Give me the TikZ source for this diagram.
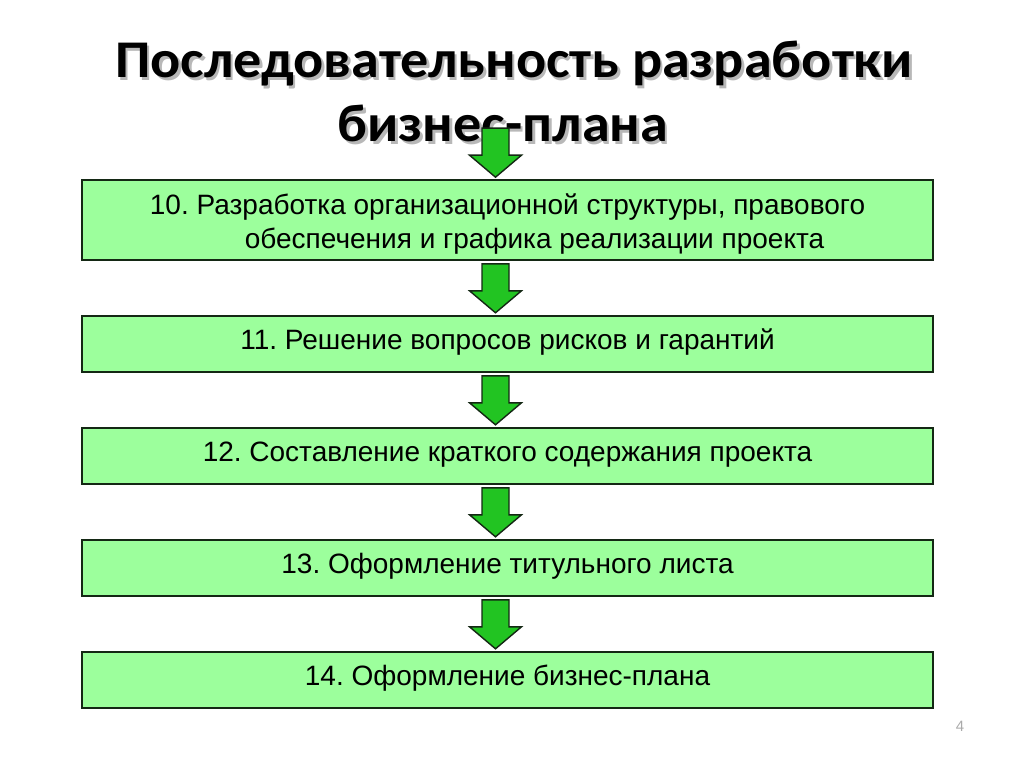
\documentclass[tikz,border=0pt]{standalone}
\usepackage{fontspec}
\setmainfont{Liberation Sans}
\newfontfamily\titlefont{Carlito}[FakeStretch=1.06]
\frenchspacing
\usetikzlibrary{calc}
\definecolor{boxfill}{RGB}{156,255,156}
\definecolor{boxline}{RGB}{20,40,20}
\definecolor{arrowfill}{RGB}{34,196,34}
\definecolor{pagegray}{RGB}{170,170,170}
\tikzset{
  stepbox/.style={draw=boxline, line width=1.6pt, fill=boxfill, minimum width=851pt, inner sep=0pt,
    font=\fontsize{28}{34}\selectfont, text=black, align=center, text height=20pt, text depth=10pt},
  titletext/.style={font=\titlefont\bfseries\fontsize{53}{60}\selectfont, text=black, anchor=base},
  shadowtext/.style={font=\titlefont\bfseries\fontsize{53}{60}\selectfont, text=black!28, anchor=base},
  greenarrow/.pic={\draw[draw=boxline, line width=1.4pt, fill=arrowfill, line join=miter]
     (-13.5,0) -- (13.5,0) -- (13.5,27) -- (26,27) -- (0,49) -- (-26,27) -- (-13.5,27) -- cycle;}
}
\begin{document}
\begin{tikzpicture}[x=1pt, y=-1pt]
\useasboundingbox (0,0) rectangle (1024,767);
% title with shadow
\node[shadowtext] (t1s) at (516.5,80.5) {Последовательность разработки};
\node[shadowtext] (t2s) at (505.5,144.5) {бизнес-плана};
\node[titletext] (t1) at (514,78) {Последовательность разработки};
\node[titletext] (t2) at (503,142) {бизнес-плана};
% boxes
\node[stepbox, minimum height=80pt, text height=60pt, text depth=4pt] (b1) at (507.5,220) {10. Разработка организационной структуры, правового\\\hspace*{54pt}обеспечения и графика реализации проекта};
\node[stepbox, minimum height=56pt] (b2) at (507.5,344) {11. Решение вопросов рисков и гарантий};
\node[stepbox, minimum height=56pt] (b3) at (507.5,456) {12. Составление краткого содержания проекта};
\node[stepbox, minimum height=56pt] (b4) at (507.5,568) {13. Оформление титульного листа};
\node[stepbox, minimum height=56pt] (b5) at (507.5,680) {14. Оформление бизнес-плана};
% arrows
\pic at ($(b1.north)+(-12,-51)$) {greenarrow};
\pic at ($(b1.south)+(-12,3)$) {greenarrow};
\pic at ($(b2.south)+(-12,3)$) {greenarrow};
\pic at ($(b3.south)+(-12,3)$) {greenarrow};
\pic at ($(b4.south)+(-12,3)$) {greenarrow};
% page number
\node[text=pagegray, font=\fontsize{15}{17}\selectfont] (pg) at (960,726) {4};
\end{tikzpicture}
\end{document}
